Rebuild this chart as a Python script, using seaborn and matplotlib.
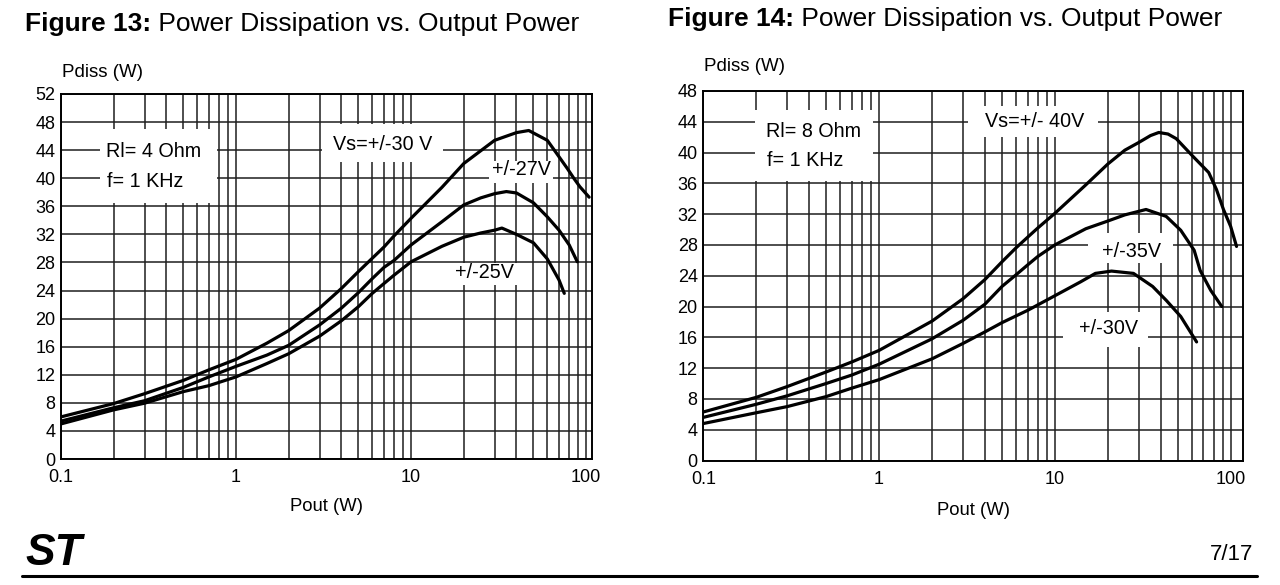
import numpy as np
import pandas as pd
import matplotlib
matplotlib.use("Agg")
import matplotlib.pyplot as plt
import seaborn as sns
from matplotlib.patches import Rectangle
from matplotlib.lines import Line2D
from matplotlib.ticker import FixedLocator, NullFormatter

sns.set_theme(style="white")
plt.rcParams['font.family'] = ['Liberation Sans', 'DejaVu Sans']
plt.rcParams['text.color'] = 'black'
plt.rcParams['axes.labelcolor'] = 'black'

# ---------------- data: Figure 13 (Rl = 4 Ohm) ----------------
f13_x_30 = [0.1, 0.2, 0.3, 0.5, 0.7, 1, 1.5, 2, 3, 4, 5, 6, 7, 8, 10, 15, 20, 30, 40, 47, 60, 68, 78, 85, 92, 104]
f13_y_30 = [6.0, 7.9, 9.3, 11.2, 12.7, 14.2, 16.5, 18.3, 21.5, 24.3, 26.7, 28.6, 30.2, 31.8, 34.3, 38.7, 42.1, 45.4, 46.5, 46.8, 45.4, 43.5, 41.4, 40.0, 38.8, 37.3]
f13_x_27 = [0.1, 0.2, 0.3, 0.5, 0.7, 1, 1.5, 2, 3, 4, 5, 6, 7, 8, 10, 15, 20, 25, 30, 35, 40, 50, 60, 70, 80, 89]
f13_y_27 = [5.4, 7.3, 8.3, 10.2, 11.7, 13.2, 14.8, 16.2, 19.1, 21.5, 23.7, 25.7, 27.3, 28.3, 30.5, 33.8, 36.2, 37.2, 37.8, 38.1, 37.9, 36.5, 34.5, 32.6, 30.5, 28.1]
f13_x_25 = [0.1, 0.2, 0.3, 0.5, 0.7, 1, 1.5, 2, 3, 4, 5, 6, 7, 8, 10, 15, 20, 25, 30, 33, 40, 50, 60, 70, 75]
f13_y_25 = [5.0, 7.0, 7.95, 9.6, 10.45, 11.7, 13.6, 15.0, 17.5, 19.7, 21.7, 23.6, 25.0, 26.2, 28.1, 30.3, 31.6, 32.2, 32.6, 32.9, 32.0, 30.8, 28.5, 25.5, 23.6]

# ---------------- data: Figure 14 (Rl = 8 Ohm) ----------------
f14_x_40 = [0.1, 0.2, 0.3, 0.5, 0.7, 1, 2, 3, 4, 5, 6, 7, 8, 10, 15, 20, 25, 30, 35, 39, 44, 49, 61, 75, 83, 91, 100, 108]
f14_y_40 = [6.3, 8.2, 9.6, 11.5, 12.8, 14.3, 18.1, 21.0, 23.5, 25.8, 27.6, 29.0, 30.2, 32.1, 35.8, 38.5, 40.3, 41.3, 42.2, 42.6, 42.4, 41.8, 39.5, 37.4, 35.2, 32.6, 30.4, 27.8]
f14_x_35 = [0.1, 0.2, 0.3, 0.5, 0.7, 1, 2, 3, 4, 5, 6, 7, 8, 10, 15, 20, 25, 33, 43, 52, 62, 67, 77, 89]
f14_y_35 = [5.6, 7.3, 8.4, 10.0, 11.1, 12.5, 15.8, 18.2, 20.3, 22.6, 24.1, 25.4, 26.5, 28.0, 30.1, 31.1, 31.9, 32.6, 31.7, 29.9, 27.3, 24.7, 22.1, 20.0]
f14_x_30 = [0.1, 0.2, 0.3, 0.5, 0.7, 1, 2, 3, 4, 5, 7, 10, 14, 17, 21, 28, 36, 43, 52, 64]
f14_y_30 = [4.8, 6.2, 7.0, 8.3, 9.4, 10.5, 13.2, 15.2, 16.7, 17.9, 19.5, 21.4, 23.2, 24.3, 24.6, 24.3, 22.6, 20.8, 18.7, 15.4]

x_ticks = [0.1, 1, 10, 100]
x_tick_labels = ["0.1", "1", "10", "100"]
f13_y_ticks = list(range(0, 53, 4))
f14_y_ticks = list(range(0, 49, 4))

def long_frame(pairs):
    rows = []
    for name, xs, ys in pairs:
        for xv, yv in zip(xs, ys):
            rows.append({"Vs": name, "Pout": xv, "Pdiss": yv})
    return pd.DataFrame(rows)

df13 = long_frame([("30", f13_x_30, f13_y_30), ("27", f13_x_27, f13_y_27), ("25", f13_x_25, f13_y_25)])
df14 = long_frame([("40", f14_x_40, f14_y_40), ("35", f14_x_35, f14_y_35), ("30", f14_x_30, f14_y_30)])

W, H = 1280, 585
fig = plt.figure(figsize=(W / 100, H / 100), dpi=100)
fig.patch.set_facecolor("white")

def px_axes(x0, x1, ytop, ybot):
    return fig.add_axes([x0 / W, 1 - ybot / H, (x1 - x0) / W, (ybot - ytop) / H])

ax1 = px_axes(61, 592, 94, 459)
ax2 = px_axes(703.3, 1243.3, 90.9, 460.5)

GRID = "#1e1e1e"
FS_TICK = 13.0
FS_ANN = 14.2

def style_axis(ax, df, ylim, yticks, xmax):
    sns.lineplot(data=df, x="Pout", y="Pdiss", hue="Vs", palette=["black"] * 3,
                 estimator=None, sort=False, legend=False, ax=ax, lw=2.3, zorder=3)
    ax.set_xscale("log")
    ax.set_xlim(0.1, xmax)
    ax.set_ylim(*ylim)
    ax.xaxis.set_major_locator(FixedLocator(x_ticks))
    ax.set_xticklabels(x_tick_labels)
    minors = [m * d for d in (0.1, 1, 10) for m in range(2, 10)]
    ax.xaxis.set_minor_locator(FixedLocator(minors))
    ax.xaxis.set_minor_formatter(NullFormatter())
    ax.set_yticks(yticks)
    ax.set_yticklabels([str(v) for v in yticks])
    ax.set_axisbelow(True)
    ax.grid(True, which="major", color=GRID, lw=1.1)
    ax.grid(True, which="minor", axis="x", color=GRID, lw=1.1)
    ax.tick_params(axis="both", which="both", length=0, labelsize=FS_TICK, colors="black")
    ax.tick_params(axis="x", pad=7.5)
    ax.tick_params(axis="y", pad=4)
    for s in ax.spines.values():
        s.set_color("black")
        s.set_linewidth(1.4)
        s.set_zorder(4)
    ax.set_facecolor("white")

style_axis(ax1, df13, (0, 52), f13_y_ticks, 108)
style_axis(ax2, df14, (0, 48), f14_y_ticks, 118)

for ax, ylc, xlc in ((ax1, 1.060, -0.1315), (ax2, 1.0655, -0.134)):
    ax.set_xlabel("Pout (W)", fontsize=13.3, va="center")
    ax.xaxis.set_label_coords(0.5, xlc)
    ax.set_ylabel("Pdiss (W)", fontsize=13.5, rotation=0, ha="left", va="center")
    ax.yaxis.set_label_coords(0.002, ylc)

def white_box(ax, x0, x1, y0, y1):
    ax.add_patch(Rectangle((x0, y0), x1 - x0, y1 - y0, facecolor="white",
                           edgecolor="none", zorder=1.5))

# label boxes (interrupt grid)
white_box(ax1, 0.167, 0.78, 36.4, 47.0)
white_box(ax1, 3.1, 15.3, 42.3, 47.7)
white_box(ax1, 28, 65, 39.3, 42.5)
white_box(ax1, 15, 43.6, 24.8, 27.9)
white_box(ax2, 0.197, 0.925, 36.3, 45.5)
white_box(ax2, 3.2, 17.6, 42.0, 46.0)
white_box(ax2, 15.5, 47, 25.6, 29.5)
white_box(ax2, 11.1, 34, 14.8, 19.3)

def label(ax, x, y, s, ha="center"):
    ax.text(x, y, s, fontsize=FS_ANN, ha=ha, va="center", color="black", zorder=5)

label(ax1, 0.181, 43.8, "Rl= 4 Ohm", ha="left")
label(ax1, 0.183, 39.5, "f= 1 KHz", ha="left")
label(ax1, 6.87, 44.8, "Vs=+/-30 V")
label(ax1, 42.8, 41.2, "+/-27V")
label(ax1, 26.1, 26.5, "+/-25V")
label(ax2, 0.228, 42.7, "Rl= 8 Ohm", ha="left")
label(ax2, 0.231, 39.0, "f= 1 KHz", ha="left")
label(ax2, 7.64, 44.0, "Vs=+/- 40V")
label(ax2, 27.4, 27.1, "+/-35V")
label(ax2, 20.2, 17.2, "+/-30V")

# titles (bold "Figure N:" + regular remainder)
renderer = fig.canvas.get_renderer()
def title(x_px, base_px, num):
    t = fig.text(x_px / W, 1 - base_px / H, f"Figure {num}:", fontsize=19,
                 fontweight="bold", ha="left", va="baseline")
    bb = t.get_window_extent(renderer=renderer)
    fig.text(bb.x1 / W, 1 - base_px / H, " Power Dissipation vs. Output Power",
             fontsize=19, ha="left", va="baseline")

title(25, 31, 13)
title(668, 26, 14)

# page footer
fig.text(1253 / W, 1 - 555 / H, "7/17", fontsize=16, ha="right", va="center")
fig.text(25 / W, 1 - 565 / H, "ST", fontsize=32, fontweight="bold", fontstyle="italic",
         ha="left", va="baseline")
fig.add_artist(Line2D([22 / W, 1257 / W], [1 - 576 / H, 1 - 576 / H], color="black", lw=2.2))

fig.savefig("out.png", dpi=100, facecolor="white")
